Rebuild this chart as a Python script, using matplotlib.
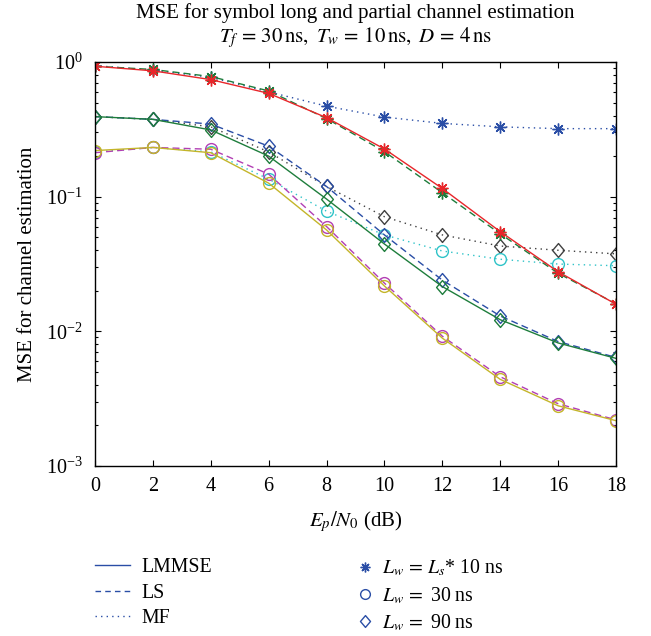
import matplotlib
matplotlib.use("Agg")
import matplotlib.pyplot as plt
from matplotlib.lines import Line2D
from matplotlib.path import Path

plt.rcParams['font.family'] = ['Liberation Serif', 'DejaVu Serif']
plt.rcParams['mathtext.fontset'] = 'stix'

snr = [0, 2, 4, 6, 8, 10, 12, 14, 16, 18]

star_lmmse = [0.93, 0.86, 0.74, 0.585, 0.386, 0.226, 0.115, 0.055, 0.0277, 0.0159]
star_ls = [0.93, 0.88, 0.78, 0.61, 0.38, 0.216, 0.107, 0.053, 0.027, 0.016]
star_mf = [0.94, 0.87, 0.77, 0.60, 0.47, 0.39, 0.35, 0.33, 0.32, 0.32]

diamond_lmmse = [0.393, 0.375, 0.313, 0.200, 0.096, 0.0445, 0.0215, 0.0122, 0.0082, 0.0063]
diamond_ls = [0.393, 0.375, 0.346, 0.237, 0.119, 0.052, 0.024, 0.013, 0.0084, 0.0064]
diamond_mf = [0.393, 0.375, 0.33, 0.215, 0.119, 0.071, 0.052, 0.043, 0.040, 0.0376]

circle_lmmse = [0.22, 0.232, 0.212, 0.126, 0.0566, 0.0217, 0.0089, 0.0044, 0.0028, 0.00217]
circle_ls = [0.212, 0.232, 0.225, 0.147, 0.060, 0.0228, 0.0092, 0.0046, 0.0029, 0.0022]
circle_mf = [0.215, 0.232, 0.215, 0.135, 0.078, 0.052, 0.0395, 0.0343, 0.0316, 0.0307]

RED = '#e8262a'
GREEN = '#1e7d3c'
BLUE = '#2a4ea6'
MAGENTA = '#b23fb4'
YELLOW = '#c4b52a'
CYAN = '#2fc3c8'
GRAY = '#404040'

STAR = (8, 2, 0)
DIAM = Path([(0, 1), (0.85, 0), (0, -1), (-0.85, 0), (0, 1)],
            [Path.MOVETO, Path.LINETO, Path.LINETO, Path.LINETO, Path.CLOSEPOLY])

fig = plt.figure(figsize=(6.51, 6.36), dpi=100)
ax = fig.add_axes([95/651, 1-466/636, (616-95)/651, (466-62)/636])

lw = 1.0
mew = 1.0
SIZES = {'o': 8.5, 'star': 8.5, 'd': 10.0}

def plot(y, color, ls, marker, msize):
    ax.plot(snr, y, color=color, linestyle=ls, linewidth=lw, marker=marker,
            markersize=msize, markerfacecolor='none', markeredgecolor=color,
            markeredgewidth=mew)

DOT = (0, (1, 3))
DASH = (0, (5, 3))
# MF (dotted)
plot(star_mf, BLUE, DOT, STAR, SIZES['star'])
plot(diamond_mf, GRAY, DOT, DIAM, SIZES['d'])
plot(circle_mf, CYAN, DOT, 'o', SIZES['o'])
# LS (dashed)
plot(star_ls, GREEN, DASH, STAR, SIZES['star'])
plot(diamond_ls, BLUE, DASH, DIAM, SIZES['d'])
plot(circle_ls, MAGENTA, DASH, 'o', SIZES['o'])
# LMMSE (solid)
plot(star_lmmse, RED, '-', STAR, SIZES['star'])
plot(diamond_lmmse, GREEN, '-', DIAM, SIZES['d'])
plot(circle_lmmse, YELLOW, '-', 'o', SIZES['o'])

ax.set_yscale('log')
ax.set_xlim(0, 18)
ax.set_ylim(1e-3, 1e0)
ax.set_xticks(snr)
ax.tick_params(which='both', direction='in', top=True, right=True, labelsize=14.5)
ax.tick_params(axis='x', pad=8)
ax.tick_params(axis='y', pad=9)
ax.tick_params(which='major', length=4.5, width=0.8)
ax.tick_params(which='minor', length=2.5, width=0.8)
for s in ax.spines.values():
    s.set_linewidth(1.0)

ax.set_xlabel(r'$E_p/N_0$ (dB)', fontsize=15, labelpad=9)
ax.set_ylabel('MSE for channel estimation', fontsize=15, labelpad=6)

cx = (95 + 616) / 2 / 651
fig.text(cx, 1-13/636, 'MSE for symbol long and partial channel estimation',
         ha='center', va='center', fontsize=15)
fig.text(cx, 1-38/636,
         r'$T_f\, =\, 30\,\mathrm{ns},\ T_w\, =\, 10\,\mathrm{ns},\ D\, =\, 4\,\mathrm{ns}$',
         ha='center', va='center', fontsize=15)

LEG = BLUE
FS = 14.3
h1 = [Line2D([], [], color=LEG, linestyle='-', linewidth=lw),
      Line2D([], [], color=LEG, linestyle=(0, (4, 3)), linewidth=lw),
      Line2D([], [], color=LEG, linestyle=(0, (1, 3)), linewidth=lw)]
l1 = ['LMMSE', 'LS', 'MF']
fig.legend(h1, l1, loc='upper left', bbox_to_anchor=(95/651, 1-558/636),
           frameon=False, fontsize=FS, handlelength=1.75, handletextpad=0.6,
           labelspacing=0.33, borderpad=0, borderaxespad=0)

h2 = [Line2D([], [], color=LEG, linestyle='none', marker=STAR, markersize=7,
             markerfacecolor='none', markeredgewidth=mew),
      Line2D([], [], color=LEG, linestyle='none', marker='o', markersize=7,
             markerfacecolor='none', markeredgewidth=mew),
      Line2D([], [], color=LEG, linestyle='none', marker=DIAM, markersize=8.5,
             markerfacecolor='none', markeredgewidth=mew)]
l2 = [r'$L_w\, =\, L_s$* 10 ns', r'$L_w\, =$ 30 ns', r'$L_w\, =$ 90 ns']
fig.legend(h2, l2, loc='upper left', bbox_to_anchor=(357/651, 1-558/636),
           frameon=False, fontsize=FS, handlelength=0.85, handletextpad=0.4,
           labelspacing=0.33, borderpad=0, borderaxespad=0)

fig.savefig('out.png', dpi=100)
